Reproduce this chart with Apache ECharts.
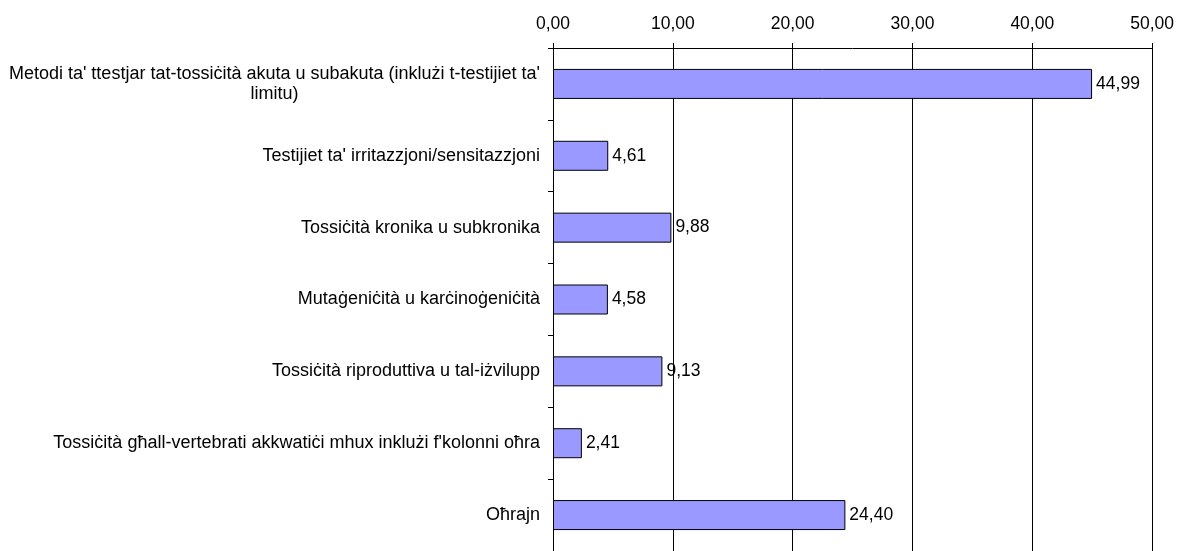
<!DOCTYPE html>
<html>
<head>
<meta charset="utf-8">
<script src="https://cdn.jsdelivr.net/npm/echarts@6/dist/echarts.min.js"></script>
<style>
  html, body { margin: 0; padding: 0; background: #fff; }
  #chart { width: 1177px; height: 551px; }
</style>
</head>
<body>
<div id="chart"></div>
<script>
// categories top to bottom
const categories = [
  "Metodi ta' ttestjar tat-tossiċità akuta u subakuta (inklużi t-testijiet ta'\nlimitu)",
  "Testijiet ta' irritazzjoni/sensitazzjoni",
  "Tossiċità kronika u subkronika",
  "Mutaġeniċità u karċinoġeniċità",
  "Tossiċità riproduttiva u tal-iżvilupp",
  "Tossiċità għall-vertebrati akkwatiċi mhux inklużi f'kolonni oħra",
  "Oħrajn"
]
const values = [44.99, 4.61, 9.88, 4.58, 9.13, 2.41, 24.40]
const xTicks = [0, 10, 20, 30, 40, 50]

const fmt = (v) => v.toFixed(2).replace('.', ',')
const font = 'Liberation Sans, Arial, sans-serif'

const chart = echarts.init(document.getElementById('chart'))
chart.setOption({
  animation: false,
  grid: { left: 553, right: 24, top: 48, height: 509 },
  xAxis: {
    type: 'value',
    position: 'top',
    min: xTicks[0],
    max: xTicks[xTicks.length - 1],
    interval: xTicks[1] - xTicks[0],
    axisLine: { show: true, lineStyle: { color: '#000', width: 1 } },
    axisTick: { show: true, length: 5, lineStyle: { color: '#000' } },
    splitLine: { show: true, lineStyle: { color: '#000', width: 1 } },
    axisLabel: {
      color: '#000', fontFamily: font, fontSize: 17.5, margin: 15,
      formatter: (v) => fmt(v)
    }
  },
  yAxis: {
    type: 'category',
    inverse: true,
    data: categories,
    axisLine: { show: true, lineStyle: { color: '#000', width: 1 } },
    axisTick: { show: true, length: 5, lineStyle: { color: '#000' } },
    splitLine: { show: false },
    axisLabel: {
      color: '#000', fontFamily: font, fontSize: 18, margin: 13,
      // wrapped label lines are centred like in the original
      formatter: (v) => v.split('\n').map(s => '{c|' + s + '}').join('\n'),
      rich: {
        c: { align: 'center', color: '#000', fontFamily: font, fontSize: 18, lineHeight: 20 }
      }
    }
  },
  series: [{
    type: 'bar',
    data: values,
    barWidth: 30,
    itemStyle: { color: '#9999ff', borderColor: '#000', borderWidth: 1 },
    label: {
      show: true, position: 'right', distance: 4,
      color: '#000', fontFamily: font, fontSize: 17.5,
      formatter: (p) => fmt(p.value)
    }
  }]
})
</script>
</body>
</html>
